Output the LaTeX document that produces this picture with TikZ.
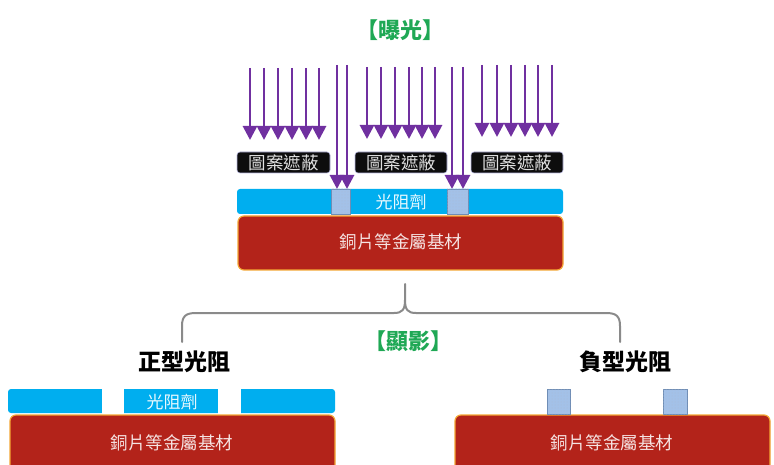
\documentclass[tikz,border=0pt]{standalone}
\usepackage{fontspec}
\newfontfamily\cjk{Noto Sans CJK TC}
\usetikzlibrary{arrows.meta,patterns}
\definecolor{ray}{HTML}{7030A0}
\definecolor{ttl}{HTML}{1FA855}
\definecolor{resist}{HTML}{00AEEF}
\definecolor{subst}{HTML}{B3231A}
\definecolor{substedge}{HTML}{F3A634}
\definecolor{expo}{HTML}{A3C1E8}
\definecolor{expoedge}{HTML}{6F8DB5}
\definecolor{brace}{HTML}{8A8A8A}
\tikzset{
  raypath/.style={draw=ray, line width=2.8pt, -{Triangle[length=14pt,width=14pt]}},
  maskbox/.style={draw=gray!60!blue!40, line width=0.6pt, fill=black!95, rounded corners=3pt},
  resistbar/.style={fill=resist, rounded corners=3pt},
  substbox/.style={fill=subst, draw=substedge, line width=1.2pt, rounded corners=6pt},
  exposq/.style={fill=expo, draw=expoedge, line width=0.6pt},
  exposqdots/.style={pattern=dots, pattern color=expoedge!60},
  masktxt/.style={text=black!12, font=\cjk\fontsize{17.5}{17.5}\selectfont},
  resisttxt/.style={text=white!92!resist, font=\cjk\fontsize{17}{17}\selectfont},
  substtxt/.style={text=white!88!subst, font=\cjk\fontsize{17.5}{17.5}\selectfont},
  titletxt/.style={text=ttl, font=\cjk\bfseries\fontsize{22}{22}\selectfont},
  typetxt/.style={text=black, font=\cjk\bfseries\fontsize{23}{23}\selectfont},
}
\begin{document}
\begin{tikzpicture}[x=1pt,y=-1pt]
\useasboundingbox (0,0) rectangle (774,465);
\clip (0,0) rectangle (774,465);
% title
\node[titletxt] (t1) at (400,30) {【曝光】};
% short rays
\foreach \x in {250,264,278,292,306,319} \draw[raypath] (\x,68) -- (\x,140);
\foreach \x in {367,381,395,409,422,435} \draw[raypath] (\x,67) -- (\x,139);
\foreach \x in {482,497,511,525,538,552} \draw[raypath] (\x,65) -- (\x,137);
% masks
\draw[maskbox] (237,152) rectangle (330,173);
\draw[maskbox] (355,152) rectangle (447,173);
\draw[maskbox] (471,152) rectangle (563,173);
\node[masktxt] (m1) at (283.5,162.5) {圖案遮蔽};
\node[masktxt] (m2) at (401,162.5) {圖案遮蔽};
\node[masktxt] (m3) at (517,162.5) {圖案遮蔽};
% photoresist & substrate (top)
\fill[resistbar] (237,189) rectangle (563,214);
\draw[substbox] (238,216) rectangle (563,270);
\draw[exposq] (331,189) rectangle (350,214);
\fill[exposqdots] (331,189) rectangle (350,214);
\draw[exposq] (447,189) rectangle (468,214);
\fill[exposqdots] (447,189) rectangle (468,214);
\node[resisttxt] (r1) at (401,201.5) {光阻劑};
\node[substtxt] (s1) at (401,242) {銅片等金屬基材};
% long rays
\foreach \x/\y in {337/65,347/65,452/67,463/67} \draw[raypath] (\x,\y) -- (\x,189);
% brace
\draw[brace, line width=2pt, line cap=round, line join=round]
  (182,342) -- (182,326) .. controls (182,316) and (186,313) .. (196,313)
  -- (394,313) .. controls (402,313) and (405,310) .. (405,300) -- (405,284)
  (405,300) .. controls (405,310) and (408,313) .. (416,313)
  -- (606,313) .. controls (616,313) and (620,316) .. (620,326) -- (620,342);
\node[titletxt] (t2) at (408,341) {【顯影】};
% positive resist
\node[typetxt] (p) at (184,362) {正型光阻};
\fill[resistbar] (8,389) rectangle (335,413);
\fill[white] (102,388) rectangle (124,414);
\fill[white] (218,388) rectangle (241,414);
\draw[substbox] (10,415) rectangle (335,480);
\node[resisttxt] (r2) at (172,402) {光阻劑};
\node[substtxt] (s2) at (172,443) {銅片等金屬基材};
% negative resist
\node[typetxt] (n) at (625,362) {負型光阻};
\draw[substbox] (455,415) rectangle (770,480);
\draw[exposq] (547,389) rectangle (570,414);
\fill[exposqdots] (547,389) rectangle (570,414);
\draw[exposq] (663,389) rectangle (687,414);
\fill[exposqdots] (663,389) rectangle (687,414);
\node[substtxt] (s3) at (612,443) {銅片等金屬基材};
\end{tikzpicture}
\end{document}
